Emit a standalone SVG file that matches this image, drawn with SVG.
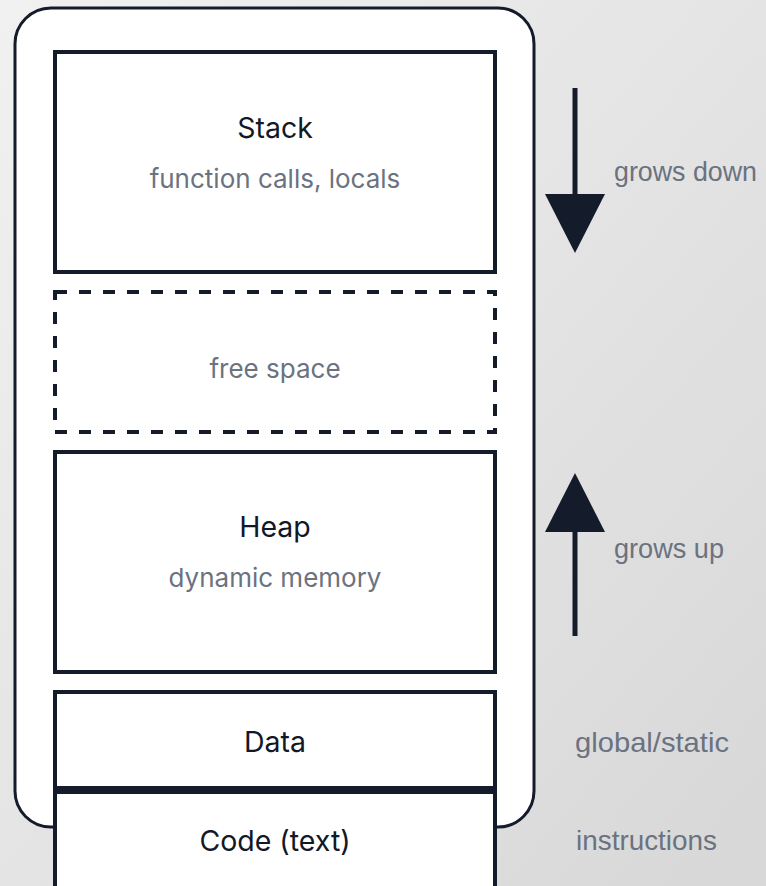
<svg xmlns="http://www.w3.org/2000/svg" width="766" height="886" viewBox="0 0 766 886">
  <defs>
    <linearGradient id="bg" x1="0" y1="0" x2="1" y2="1">
      <stop offset="0" stop-color="#f1f1f1"/>
      <stop offset="1" stop-color="#d7d7d7"/>
    </linearGradient>
    <marker id="head" markerUnits="userSpaceOnUse" markerWidth="60" markerHeight="60" refX="0" refY="30" orient="auto" viewBox="0 0 60 60">
      <path d="M0,0 L59,30 L0,60 Z" fill="#141b2b"/>
    </marker>
    <style>
      .box { fill: #ffffff; stroke: #141b2b; stroke-width: 4; }
      .free { fill: #ffffff; stroke: #141b2b; stroke-width: 4; stroke-dasharray: 12 12; }
      .title { font-family: Inter, "Liberation Sans", sans-serif; font-size: 28.5px; fill: #111827; text-anchor: middle; }
      .sub { font-family: Inter, "Liberation Sans", sans-serif; font-size: 26px; fill: #6b7280; text-anchor: middle; }
      .side { font-family: "Liberation Sans", Arial, sans-serif; font-size: 28px; fill: #6b7280; }
      .shaft { stroke: #141b2b; stroke-width: 5; fill: none; }
    </style>
  </defs>
  <rect x="0" y="0" width="766" height="886" fill="url(#bg)"/>
  <rect id="frame" x="15" y="8" width="519" height="819" rx="36" ry="36" fill="#ffffff" stroke="#141b2b" stroke-width="3"/>

  <g id="stack">
    <rect class="box" x="55" y="52" width="440" height="220"/>
    <text class="title" x="275" y="138">Stack</text>
    <text class="sub" x="275" y="188">function calls, locals</text>
  </g>
  <g id="free">
    <rect class="free" x="55" y="292" width="440" height="140"/>
    <text class="sub" x="275" y="378">free space</text>
  </g>
  <g id="heap">
    <rect class="box" x="55" y="452" width="440" height="220"/>
    <text class="title" x="275" y="537">Heap</text>
    <text class="sub" x="275" y="587">dynamic memory</text>
  </g>
  <g id="data">
    <rect class="box" x="55" y="692" width="440" height="96"/>
    <text class="title" x="275" y="752">Data</text>
  </g>
  <g id="code">
    <rect class="box" x="55" y="792" width="440" height="100"/>
    <text class="title" x="275" y="851">Code (text)</text>
  </g>

  <g id="connectors">
    <line class="shaft" x1="575" y1="88" x2="575" y2="194" marker-end="url(#head)"/>
    <line class="shaft" x1="575" y1="636" x2="575" y2="532" marker-end="url(#head)"/>
  </g>

  <g id="labels">
    <text class="side" x="614" y="181" textLength="143" lengthAdjust="spacingAndGlyphs">grows down</text>
    <text class="side" x="614" y="558" textLength="110" lengthAdjust="spacingAndGlyphs">grows up</text>
    <text class="side" x="575" y="752" textLength="154" lengthAdjust="spacingAndGlyphs">global/static</text>
    <text class="side" x="576" y="850" textLength="141" lengthAdjust="spacingAndGlyphs">instructions</text>
  </g>
</svg>
